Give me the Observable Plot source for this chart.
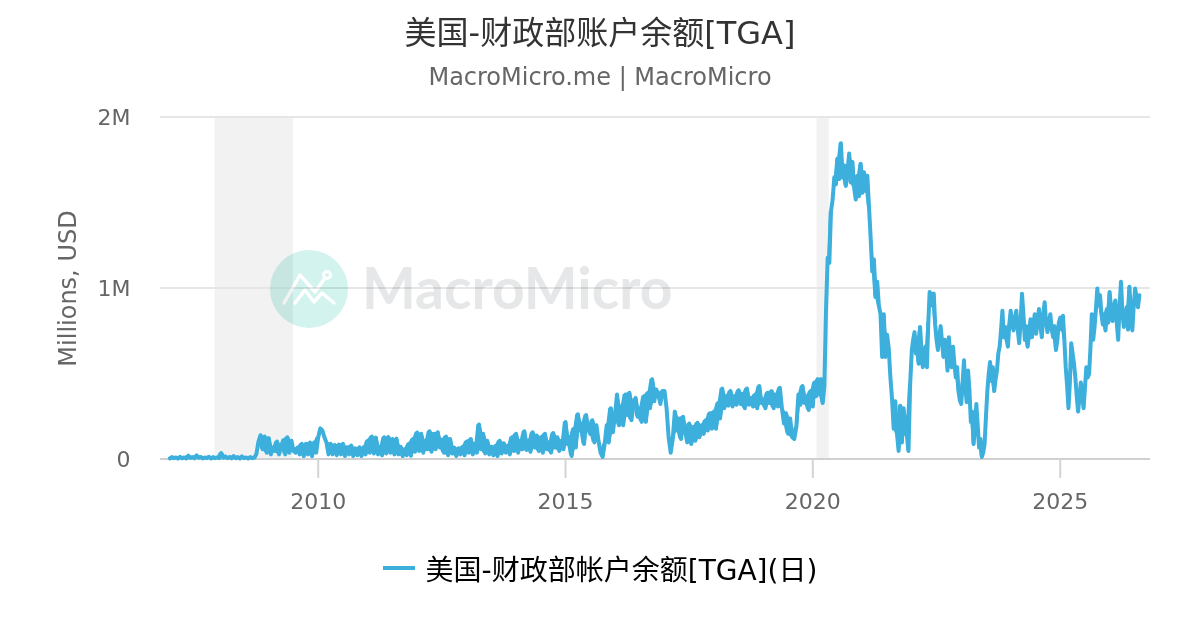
<!DOCTYPE html>
<html><head><meta charset="utf-8">
<script src="https://cdn.jsdelivr.net/npm/d3@7"></script>
<script src="https://cdn.jsdelivr.net/npm/@observablehq/plot@0.6"></script>
<style>
html,body{margin:0;padding:0;background:#fff;width:1200px;height:630px;overflow:hidden;font-family:"DejaVu Sans","Noto Sans CJK SC",sans-serif}
#wrap{position:relative;width:1200px;height:630px}
#head{height:100px;text-align:center}
#title{font-size:32px;color:#333;line-height:36px;padding-top:15px;height:36px}
#sub{font-size:24px;color:#666;line-height:28px;margin-top:12px}
#legend{height:100px;display:flex;justify-content:center;align-items:center;gap:11px;font-size:28px;color:#000;box-sizing:border-box;padding-bottom:24px}
#legend i{display:block;width:32px;height:4px;background:#3cafdc}
#mark{position:absolute;left:270px;top:250px;pointer-events:none;mix-blend-mode:multiply}
svg{display:block}
</style></head><body>
<div id="wrap">
<div id="head"><div id="title"></div><div id="sub"></div></div>
<div id="chart"></div>
<div id="legend"></div>
</div>
<script>
const titleText="美国-财政部账户余额[TGA]";
const subtitleText="MacroMicro.me | MacroMicro";
const legendText="美国-财政部帐户余额[TGA](日)";
const yLabel="Millions, USD";
const brandText="MacroMicro";
const tickYears=[2010,2015,2020,2025];
const yTicks=[0,1e6,2e6];
const yTickLabels=["0","1M","2M"];
const recessionStart=["2007-12-01","2020-02-01"];
const recessionEnd=["2009-07-01","2020-05-01"];
const seriesColor="#3cafdc";

// TGA balance, billions USD; each list runs evenly through its period
const periods=[2007,2008,2009,2010,2011,2012,2013,2014,2015,2016,2017,2018,2019,2020,2021,2022,2023,2024,2025,2026,2026.63];
const y2007=[6,14,8,12,5,16,7,12,6,22,9,14,7,24,10,15,6,12,8,16,6,14,8,12];
const y2008=[8,38,10,18,8,15,6,20,8,14,6,18,8,12,6,14,8,10,32,105,142,60,135,40];
const y2009=[125,30,70,50,105,30,80,112,30,130,40,110,50,40,70,30,92,20,92,30,100,20,100,40];
const y2010=[130,182,170,130,100,30,92,30,85,25,88,30,92,20,72,30,82,20,65,25,72,20,72,30];
const y2011=[110,40,135,35,128,30,75,25,130,35,132,40,120,30,122,30,75,20,60,25,92,22,120,45];
const y2012=[158,50,150,40,110,60,165,45,150,60,160,70,115,40,135,25,120,35,70,20,65,30,75,25];
const y2013=[105,40,120,30,90,40,205,60,150,35,110,30,75,25,80,20,110,35,95,40,80,30,130,50];
const y2014=[150,40,110,60,165,55,110,45,160,70,140,50,130,40,150,60,100,40,155,70,130,50,110,60];
const y2015=[220,90,130,20,180,70,265,170,210,90,260,175,150,230,100,200,110,40,15,90,200,100,300,160];
const y2016=[260,380,200,310,200,380,260,390,230,340,360,250,300,220,370,220,390,300,470,340,410,380,325,400];
const y2017=[400,300,130,40,120,280,170,240,120,250,170,100,210,90,190,110,215,130,200,150,230,170,270,180];
const y2018=[280,180,330,240,415,300,370,315,400,310,370,320,405,325,385,300,415,320,360,310,380,300,430,330];
const y2019=[350,300,390,330,400,300,380,310,420,300,210,270,150,240,130,120,190,380,320,430,330,370,290,400];
const y2020=[310,450,370,470,380,470,330,430,880,1180,1150,1450,1520,1650,1610,1760,1640,1850,1650,1720,1600,1690,1790,1620,1740,1590,1520,1660,1540,1730];
const y2021=[1560,1680,1570,1660,1480,1300,1100,1170,950,1040,900,850,600,850,600,730,650,480,355,180,340,150,50,315,100,300,150,250,50,440];
const y2022=[640,700,745,620,700,560,775,650,540,620,660,540,800,980,970,900,970,790,700,640,720,780,690,600,700,640,520,715,600,540,660,560,480,540,400,345];
const y2023=[325,450,580,420,335,520,400,220,280,90,180,325,200,70,120,15,40,90,250,400,500,570,460,540,400,470,520,620,660,760,870,715,775,700,660,790];
const y2024=[870,800,755,830,870,760,680,800,970,850,700,780,660,740,820,715,790,850,735,810,880,780,715,850,920,800,745,800,850,760,715,780,640,700,800];
const y2025=[830,760,840,700,540,430,300,450,680,620,560,480,370,280,360,450,380,300,420,540,480,500,650,850,700,775,880,1000,900,960,850,790,850,755,880,800];
const y2026=[980,870,810,900,930,800,700,900,1040,860,775,840,890,760,1010,850,755,900,1000,950,890,960];
const yearLists=[y2007,y2008,y2009,y2010,y2011,y2012,y2013,y2014,y2015,y2016,y2017,y2018,y2019,y2020,y2021,y2022,y2023,y2024,y2025,y2026];

function yearToDate(t){const y=Math.floor(t);const a=Date.UTC(y,0,1),b=Date.UTC(y+1,0,1);return new Date(a+(t-y)*(b-a));}
const table=yearLists.flatMap((list,k)=>list.map((v,i)=>({
  date:yearToDate(periods[k]+(periods[k+1]-periods[k])*i/list.length),
  value:v*1000
})));
// the daily series is so dense it reads as a solid band: fill between the neighbouring lows and highs around each turning point
const band=table.map((d,i)=>{
  const p=table[i-1],n=table[i+1];
  if(!p||!n) return {date:d.date,lo:d.value,hi:d.value};
  const turning=(d.value-p.value)*(n.value-d.value)<0;
  return {date:d.date,lo:turning?Math.min(p.value,d.value,n.value):d.value,hi:turning?Math.max(p.value,d.value,n.value):d.value};
});
const recessions=recessionStart.map((s,i)=>({a:new Date(s),b:new Date(recessionEnd[i])}));
const grid=yTicks.slice(1);

document.getElementById("title").textContent=titleText;
document.getElementById("sub").textContent=subtitleText;
document.getElementById("legend").innerHTML="<i></i><span></span>";
document.querySelector("#legend span").textContent=legendText;

const plot=Plot.plot({
  width:1200,height:430,
  marginTop:17,marginBottom:71,marginLeft:160,marginRight:50,
  style:{fontFamily:'"DejaVu Sans","Noto Sans CJK SC",sans-serif',background:"transparent"},
  x:{type:"utc",domain:[yearToDate(2006.812),yearToDate(2026.826)]},
  y:{domain:[0,2e6]},
  marks:[
    Plot.rect(recessions,{x1:"a",x2:"b",y1:0,y2:2e6,fill:"#f2f2f2"}),
    Plot.ruleY(grid,{stroke:"#e6e6e6",strokeWidth:2,dy:-0.5}),
    Plot.ruleY([0],{stroke:"#d0d0d0",strokeWidth:2,dy:-0.5}),
    Plot.axisX({ticks:tickYears.map(y=>new Date(Date.UTC(y,0,1))),tickFormat:d=>String(d.getUTCFullYear()),
      tickSize:19,tickPadding:15,stroke:"#d4d4d4",strokeWidth:2,strokeOpacity:1,fill:"#666",fontSize:22,label:null}),
    Plot.axisY({ticks:yTicks,tickFormat:v=>yTickLabels[yTicks.indexOf(v)],tickSize:0,tickPadding:30,fill:"#666",fontSize:22,label:null}),
    Plot.text([yLabel],{frameAnchor:"left",textAnchor:"middle",rotate:-90,dx:-92,fontSize:24,fill:"#666"}),
    Plot.areaY(band,{x:"date",y1:"lo",y2:"hi",fill:seriesColor}),
    Plot.line(table,{x:"date",y:"value",stroke:seriesColor,strokeWidth:4,strokeLinejoin:"round",curve:"linear"})
  ]
});
document.getElementById("chart").appendChild(plot);

// Watermark logo, decorative only
const NS="http://www.w3.org/2000/svg";
const mark=document.createElementNS(NS,"svg");
mark.setAttribute("id","mark");mark.setAttribute("width","420");mark.setAttribute("height","80");
mark.innerHTML='<circle cx="39" cy="39" r="39" fill="#d3f3ee"/>'+
 '<path d="M14 53 L30 25 L45 42 L55 28" fill="none" stroke="#fff" stroke-width="3.5" stroke-linecap="round" stroke-linejoin="round"/>'+
 '<circle cx="57" cy="25" r="3.5" fill="none" stroke="#fff" stroke-width="3"/>'+
 '<path d="M25 53 L35 40 L44 52 L52 43 L64 53" fill="none" stroke="#fff" stroke-width="3.5" stroke-linecap="round" stroke-linejoin="round"/>'+
 '<text x="92" y="59" fill="#e5e7e8" font-size="57" font-weight="700" font-family="Lato,\'DejaVu Sans\',sans-serif"></text>';
mark.querySelector("text").textContent=brandText;
document.getElementById("wrap").appendChild(mark);
</script>
</body></html>
